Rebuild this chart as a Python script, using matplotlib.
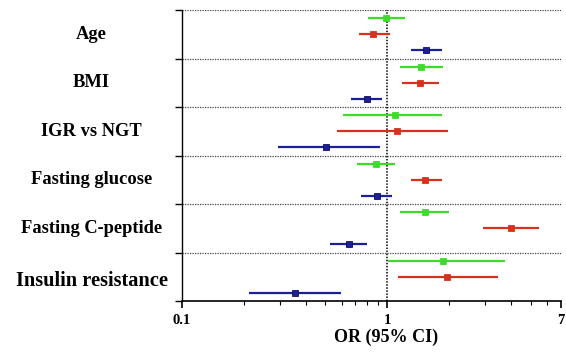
import matplotlib
matplotlib.use("Agg")
import matplotlib.pyplot as plt
from matplotlib.ticker import FixedLocator, NullFormatter, FixedFormatter
import matplotlib.transforms as mtransforms
import numpy as np

categories = ["Age", "BMI", "IGR vs NGT", "Fasting glucose", "Fasting C-peptide", "Insulin resistance"]

green_or = [0.986, 1.455, 1.086, 0.877, 1.52, 1.87]
green_lo = [0.807, 1.148, 0.610, 0.716, 1.148, 1.004]
green_hi = [1.22, 1.87, 1.85, 1.086, 2.00, 3.73]

red_or = [0.857, 1.44, 1.11, 1.52, 4.00, 1.96]
red_lo = [0.730, 1.18, 0.570, 1.31, 2.94, 1.128]
red_hi = [1.034, 1.79, 1.98, 1.85, 5.47, 3.47]

blue_or = [1.54, 0.796, 0.502, 0.889, 0.648, 0.357]
blue_lo = [1.31, 0.667, 0.294, 0.741, 0.527, 0.212]
blue_hi = [1.85, 0.942, 0.921, 1.054, 0.796, 0.597]

xticks = [0.1, 1, 7]
xtick_labels = ["0.1", "1", "7"]

plt.rcParams['font.family'] = ['Liberation Serif', 'DejaVu Serif']
plt.rcParams['font.weight'] = 'bold'

fig = plt.figure(figsize=(5.66, 3.53), dpi=100)
ax = fig.add_axes([182/566, 1-301/353, (560.7-182)/566, (301-10)/353])

n = len(categories)
g = np.arange(n)
y_green = n - g - 1/6
y_red = n - g - 0.5
y_blue = n - g - 5/6

series = [
    (green_or, green_lo, green_hi, y_green, "#3ddc2a", "#3ddc2a"),
    (red_or, red_lo, red_hi, y_red, "#d8321e", "#d8321e"),
    (blue_or, blue_lo, blue_hi, y_blue, "#1c1f9a", "#101050"),
]
for orv, lo, hi, yy, col, ec in series:
    orv = np.array(orv); lo = np.array(lo); hi = np.array(hi)
    ax.hlines(yy, lo, hi, color=col, lw=1.6, zorder=3)
    ax.plot(orv, yy, 's', color=col, mec=ec, mew=0.6, ms=4.5, zorder=4, ls='none')

ax.set_xscale('log')
ax.set_xlim(0.1, 7)
ax.set_ylim(0, n)

for yb in range(1, n + 1):
    ax.axhline(yb, color='#444444', lw=0.9, ls=(0, (1, 1)), zorder=1)
ax.axvline(1, color='black', lw=1.1, ls=(0, (1, 1)), zorder=2)

ax.spines['top'].set_visible(False)
ax.spines['right'].set_visible(False)
ax.spines['left'].set_linewidth(1.0)
ax.spines['bottom'].set_linewidth(1.2)

ax.set_yticks(np.arange(0, n + 1))
ax.set_yticklabels([])
ax.tick_params(axis='y', length=5, width=1.0, direction='out')

ax.xaxis.set_major_locator(FixedLocator(xticks))
ax.xaxis.set_major_formatter(FixedFormatter(xtick_labels))
minor = [v * d for d in (0.1, 1) for v in range(2, 10)]
minor = [m for m in minor if m < 7]
ax.xaxis.set_minor_locator(FixedLocator(minor))
ax.xaxis.set_minor_formatter(NullFormatter())
ax.tick_params(axis='x', which='major', length=5, width=1.2, labelsize=10.5, pad=4)
ax.tick_params(axis='x', which='minor', length=3, width=0.8)
for lab in ax.get_xticklabels():
    lab.set_fontweight('bold')

ax.set_xlabel("OR (95% CI)", fontsize=13, fontweight='bold', labelpad=3)
ax.xaxis.set_label_coords(0.539, -0.095)

trans = mtransforms.blended_transform_factory(fig.transFigure, ax.transData)
for i, cat in enumerate(categories):
    yc = n - i - 0.5
    fs = 14.7 if cat == "Insulin resistance" else 13.3
    if cat == "Insulin resistance":
        yc -= 0.08
    ax.text(91.5/566, yc, cat, transform=trans, ha='center', va='center',
            fontsize=fs, fontweight='bold')

fig.savefig("out.png", dpi=100)
